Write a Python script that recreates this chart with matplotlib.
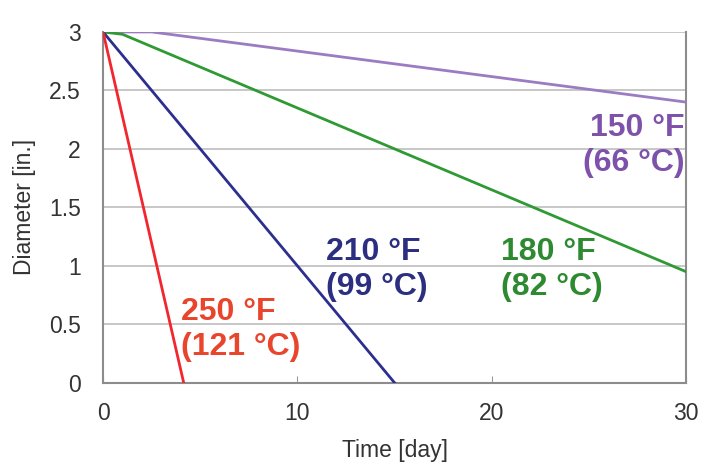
import matplotlib
matplotlib.use("Agg")
import matplotlib.pyplot as plt

plt.rcParams['font.family'] = ['Liberation Sans', 'DejaVu Sans']

# data (time in days, diameter in inches)
t_250 = [0, 4.15]
d_250 = [3.0, 0.0]
t_210 = [0, 15.0]
d_210 = [3.0, 0.0]
t_180 = [0, 1.0, 30]
d_180 = [3.0, 2.98, 0.95]
t_150 = [0, 2.5, 30]
d_150 = [3.0, 3.0, 2.4]

labels = ["250 °F\n(121 °C)", "210 °F\n(99 °C)", "180 °F\n(82 °C)", "150 °F\n(66 °C)"]
xticks = [0, 10, 20, 30]
yticks = [0, 0.5, 1, 1.5, 2, 2.5, 3]
ytick_labels = ["0", "0.5", "1", "1.5", "2", "2.5", "3"]

fig = plt.figure(figsize=(7.01, 4.63), dpi=100)
ax = fig.add_axes([0.147, 0.173, 0.832, 0.758])

for y in yticks:
    ax.axhline(y, color='#bdbdbd', lw=1.2, zorder=0)

ax.plot(t_150, d_150, color='#9b7cc2', lw=2.0, zorder=3)
ax.plot(t_180, d_180, color='#2f9a34', lw=2.0, zorder=3)
ax.plot(t_210, d_210, color='#2c2f8e', lw=2.0, zorder=3)
ax.plot(t_250, d_250, color='#f2262e', lw=2.0, zorder=4)

ax.set_xlim(0, 30)
ax.set_ylim(0, 3)
ax.set_xticks(xticks)
ax.set_yticks(yticks)
ax.set_yticklabels(ytick_labels)
ax.tick_params(axis='x', direction='in', length=5, color='#999999', labelsize=16.5,
               labelcolor='#333333', pad=14)
ax.tick_params(axis='y', length=0, labelsize=16.5, labelcolor='#333333', pad=16)
for s in ['left', 'bottom', 'right']:
    ax.spines[s].set_color('#8c8c8c')
    ax.spines[s].set_linewidth(1.5)
ax.spines['top'].set_visible(False)

ax.set_xlabel("Time [day]", fontsize=16.5, color='#333333', labelpad=10)
ax.set_ylabel("Diameter [in.]", fontsize=16.5, color='#333333', labelpad=9)

fs = 23
ls = 1.22
ax.text(4.0, 0.46, labels[0], color='#e8452c', fontsize=fs, fontweight='bold',
        ha='left', va='center', linespacing=ls)
ax.text(11.45, 0.97, labels[1], color='#2c2f80', fontsize=fs, fontweight='bold',
        ha='left', va='center', linespacing=ls)
ax.text(20.45, 0.97, labels[2], color='#2e8a30', fontsize=fs, fontweight='bold',
        ha='left', va='center', linespacing=ls)
ax.text(29.9, 2.03, labels[3], color='#7e52ab', fontsize=fs, fontweight='bold',
        ha='right', va='center', linespacing=ls)

fig.savefig("out.png", dpi=100)
